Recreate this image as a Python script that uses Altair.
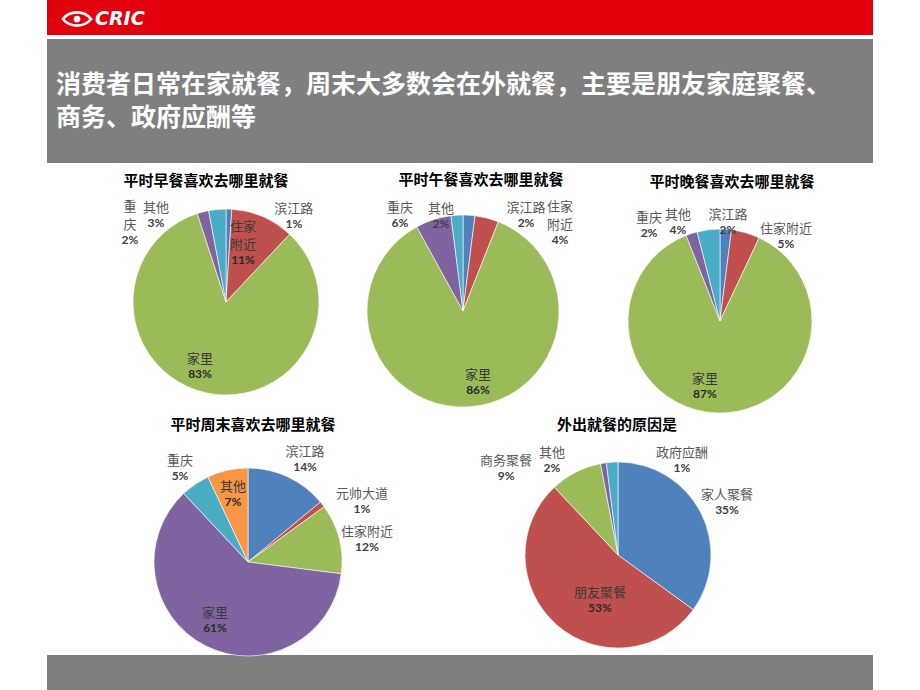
import math
import altair as alt
import pandas as pd

CJK = "Noto Sans CJK SC"

# ---------------- data ----------------
header_line1 = "消费者日常在家就餐，周末大多数会在外就餐，主要是朋友家庭聚餐、"
header_line2 = "商务、政府应酬等"
logo_text = "CRIC"

pie_titles = [
    "平时早餐喜欢去哪里就餐",
    "平时午餐喜欢去哪里就餐",
    "平时晚餐喜欢去哪里就餐",
    "平时周末喜欢去哪里就餐",
    "外出就餐的原因是",
]

breakfast_cats = ["滨江路", "住家附近", "家里", "重庆", "其他"]
breakfast_vals = [1, 11, 83, 2, 3]

lunch_cats = ["滨江路", "住家附近", "家里", "重庆", "其他"]
lunch_vals = [2, 4, 86, 6, 2]

dinner_cats = ["滨江路", "住家附近", "家里", "重庆", "其他"]
dinner_vals = [2, 5, 87, 2, 4]

weekend_cats = ["滨江路", "元帅大道", "住家附近", "家里", "重庆", "其他"]
weekend_vals = [14, 1, 12, 61, 5, 7]

reason_cats = ["家人聚餐", "朋友聚餐", "商务聚餐", "政府应酬", "其他"]
reason_vals = [35, 53, 9, 1, 2]

all_cats = [breakfast_cats, lunch_cats, dinner_cats, weekend_cats, reason_cats]
all_vals = [breakfast_vals, lunch_vals, dinner_vals, weekend_vals, reason_vals]

# ---------------- style / layout ----------------
PAL = {"blue": "#4F81BD", "red": "#C0504D", "green": "#9BBB59",
       "purple": "#8064A2", "cyan": "#4BACC6", "orange": "#F79646"}
pie_colors = [
    ["blue", "red", "green", "purple", "cyan"],
    ["blue", "red", "green", "purple", "cyan"],
    ["blue", "red", "green", "purple", "cyan"],
    ["blue", "red", "green", "purple", "cyan", "orange"],
    ["blue", "red", "green", "purple", "cyan"],
]
pie_center = [(226, 302), (463, 311), (720, 321), (248, 562), (618, 555)]
pie_radius = [93, 96, 92, 94, 93]
title_pos = [(206, 181), (481, 180), (732, 182), (253, 425), (617, 425)]

# label anchor: (angle in degrees clockwise from 12 o'clock, distance from centre)
label_anchor = [
    [(38.5, 109), (19.1, 52), (201.8, 70), (305.5, 118), (320.7, 110.5)],
    [(33.7, 113.6), (51.2, 124.5), (168.3, 74), (326.3, 113.6), (346.9, 97)],
    [(4.6, 98.8), (38.0, 107.2), (192.9, 67.2), (323.1, 118.2), (336.8, 106.6)],
    [(29.1, 117.3), (62.4, 128.6), (79.3, 121.1), (209.0, 68), (323.7, 114.8), (347.3, 68.2)],
    [(64.3, 121), (201.4, 49.4), (307.4, 140.9), (34.2, 113.7), (324.9, 114.9)],
]
label_inside = [
    [False, True, True, False, False],
    [False, False, True, False, False],
    [False, False, True, False, False],
    [False, False, False, True, False, True],
    [False, True, False, False, False],
]
wrap = {(0, "住家附近"): ["住家", "附近"], (0, "重庆"): ["重", "庆"], (1, "住家附近"): ["住家", "附近"]}
LINE_H = 18

TH = alt.Scale(domain=[0, 100], range=[0, 2 * math.pi])
one = pd.DataFrame({"k": [0]})

layers = []


def band(x1, x2, y1, y2, color):
    return alt.Chart(one).mark_rect(color=color).encode(
        x=alt.value(x1), x2=alt.value(x2), y=alt.value(y1), y2=alt.value(y2))


layers.append(band(47, 873, 0, 35, "#E2000C"))
layers.append(band(47, 873, 39, 163, "#7F7F7F"))
layers.append(band(47, 873, 655, 690, "#7F7F7F"))

# logo
eye = "M-1,0 C-0.5,-0.62 0.5,-0.62 1,0 C0.5,0.62 -0.5,0.62 -1,0 Z"
layers.append(alt.Chart(one).mark_point(shape=eye, size=800, filled=False, stroke="white",
                                        strokeWidth=2.6, opacity=1).encode(
    x=alt.value(77), y=alt.value(19)))
layers.append(alt.Chart(one).mark_point(shape="circle", size=45, filled=True, color="white",
                                        opacity=1).encode(x=alt.value(77), y=alt.value(19)))
layers.append(alt.Chart(one).mark_text(text=logo_text, font="DejaVu Sans", fontSize=19,
                                       fontWeight="bold", fontStyle="italic", color="white",
                                       align="left", baseline="middle").encode(
    x=alt.value(95), y=alt.value(19)))

# header title
layers.append(alt.Chart(one).mark_text(text=header_line1, font=CJK, fontSize=25, fontWeight="bold",
                                       color="white", align="left", baseline="middle").encode(
    x=alt.value(56), y=alt.value(85)))
layers.append(alt.Chart(one).mark_text(text=header_line2, font=CJK, fontSize=25, fontWeight="bold",
                                       color="white", align="left", baseline="middle").encode(
    x=alt.value(56), y=alt.value(118)))

for p in range(5):
    cats, vals = all_cats[p], all_vals[p]
    cx, cy = pie_center[p]
    df = pd.DataFrame({
        "cat": cats,
        "v": vals,
        "i": list(range(len(cats))),
        "c": [PAL[k] for k in pie_colors[p]],
    })
    layers.append(alt.Chart(df).mark_arc(radius=pie_radius[p], stroke="white", strokeWidth=0.6).encode(
        theta=alt.Theta("v:Q", stack=True, scale=TH),
        order=alt.Order("i:Q"),
        color=alt.Color("c:N", scale=None),
        x=alt.value(cx), y=alt.value(cy),
    ))

    # name lines (one row per line, k = lines counted up from the bottom)
    rows = []
    for j, c in enumerate(cats):
        lines = wrap.get((p, c), [c])
        a, d = label_anchor[p][j]
        for k, ln in enumerate(reversed(lines)):
            rows.append({"line": ln, "k": k, "lt": a / 3.6, "lr": d,
                         "tc": "#3A3A3A" if label_inside[p][j] else "#595959"})
    ndf = pd.DataFrame(rows)
    for k in range(int(ndf["k"].max()) + 1):
        layers.append(alt.Chart(ndf).transform_filter(alt.datum.k == k).mark_text(
            font=CJK, fontSize=13, baseline="bottom", align="center", dy=-1 - LINE_H * k).encode(
            theta=alt.Theta("lt:Q", stack=None, scale=TH),
            radius=alt.Radius("lr:Q", scale=None),
            text=alt.Text("line:N"),
            color=alt.Color("tc:N", scale=None),
            x=alt.value(cx), y=alt.value(cy),
        ))

    pdf = pd.DataFrame({
        "pct": [f"{v}%" for v in vals],
        "lt": [a / 3.6 for a, d in label_anchor[p]],
        "lr": [d for a, d in label_anchor[p]],
        "pc": ["#2B2B2B" if ins else "#404040" for ins in label_inside[p]],
    })
    layers.append(alt.Chart(pdf).mark_text(font="Lato", fontSize=12, fontWeight="bold",
                                           baseline="top", align="center", dy=2).encode(
        theta=alt.Theta("lt:Q", stack=None, scale=TH),
        radius=alt.Radius("lr:Q", scale=None),
        text=alt.Text("pct:N"),
        color=alt.Color("pc:N", scale=None),
        x=alt.value(cx), y=alt.value(cy),
    ))

    tx, ty = title_pos[p]
    layers.append(alt.Chart(one).mark_text(text=pie_titles[p], font=CJK, fontSize=15, fontWeight="bold",
                                           color="#000000", align="center", baseline="middle").encode(
        x=alt.value(tx), y=alt.value(ty)))

chart = alt.layer(*layers).properties(
    width=920, height=690, padding=0, autosize="none", background="white"
).configure_view(stroke=None)

chart.save("out.html", embed_options={"renderer": "svg", "actions": False})
